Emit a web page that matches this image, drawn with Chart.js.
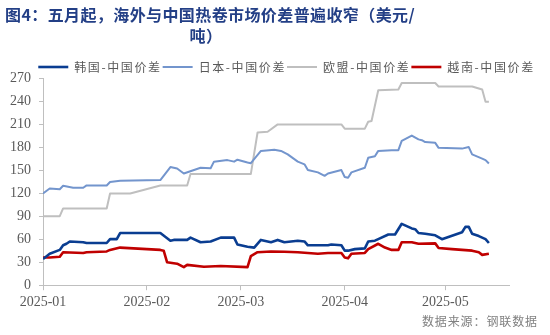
<!DOCTYPE html>
<html>
<head>
<meta charset="utf-8">
<script src="https://cdn.jsdelivr.net/npm/chart.js@4.4.1/dist/chart.umd.min.js"></script>
<style>
  body { margin: 0; background: #fff; }
  #wrap { position: relative; width: 550px; height: 335px; overflow: hidden; }
  #title { position: absolute; left: 5px; top: 4px; width: 402px; text-align: center; white-space: nowrap;
           font: bold 16px "Noto Sans CJK SC"; line-height: 21px; color: #233f86; letter-spacing: 0.4px; }
  #source { position: absolute; right: 12px; top: 313px; font: 12px "Noto Sans CJK SC";
            line-height: 16px; color: #808080; letter-spacing: 0.9px; }
  canvas { position: absolute; left: 0; top: 0; }
</style>
</head>
<body>
<div id="wrap">
  <canvas id="spread" width="550" height="335"></canvas>
  <div id="title">图4：五月起，海外与中国热卷市场价差普遍收窄（美元/<br>吨）</div>
  <div id="source">数据来源：钢联数据</div>
</div>
<script>
// 价差序列 (美元/吨)，[日期, 数值]
var korea = [
  ['01-01', 34], ['01-03', 41], ['01-06', 46], ['01-07', 52], ['01-08', 54], ['01-09', 57],
  ['01-13', 56], ['01-14', 55], ['01-20', 55], ['01-21', 60], ['01-23', 60], ['01-24', 68],
  ['02-05', 68], ['02-08', 58], ['02-09', 59], ['02-13', 59], ['02-14', 62], ['02-17', 56],
  ['02-20', 57], ['02-23', 62], ['02-27', 62], ['02-28', 53], ['03-03', 50], ['03-05', 49],
  ['03-07', 59], ['03-10', 56], ['03-12', 59], ['03-14', 56], ['03-18', 58], ['03-20', 57],
  ['03-21', 52], ['03-27', 52], ['03-28', 53], ['03-31', 52], ['04-01', 45], ['04-02', 45],
  ['04-04', 47], ['04-07', 48], ['04-08', 57], ['04-10', 58], ['04-11', 60], ['04-14', 66],
  ['04-16', 66], ['04-18', 80], ['04-21', 74], ['04-22', 73], ['04-23', 68], ['04-25', 67],
  ['04-28', 65], ['04-30', 60], ['05-06', 69], ['05-07', 76], ['05-08', 76], ['05-09', 67],
  ['05-11', 64], ['05-12', 62], ['05-13', 60], ['05-14', 55]
];
var japan = [
  ['01-01', 119.5], ['01-03', 126], ['01-06', 125], ['01-07', 129.5], ['01-10', 127], ['01-13', 127],
  ['01-14', 130], ['01-20', 130], ['01-21', 134.5], ['01-24', 136], ['02-05', 137], ['02-08', 154],
  ['02-10', 152], ['02-12', 145.5], ['02-17', 153], ['02-20', 152.5], ['02-21', 161], ['02-25', 163],
  ['02-27', 161], ['02-28', 163.5], ['03-03', 160], ['03-04', 159], ['03-07', 175], ['03-11', 176.5],
  ['03-13', 175], ['03-15', 170.5], ['03-18', 161], ['03-20', 157.5], ['03-21', 150], ['03-24', 147],
  ['03-26', 142.5], ['03-27', 145.5], ['03-31', 150], ['04-01', 141], ['04-02', 140], ['04-03', 147],
  ['04-07', 153], ['04-08', 166], ['04-10', 168], ['04-11', 175], ['04-15', 176], ['04-17', 176],
  ['04-18', 188], ['04-21', 195], ['04-23', 190], ['04-24', 189], ['04-25', 186.5], ['04-28', 185.5],
  ['04-29', 179], ['05-06', 178], ['05-08', 180], ['05-09', 170.5], ['05-12', 165], ['05-13', 163],
  ['05-14', 158.5]
];
var eu = [
  ['01-01', 90], ['01-06', 90], ['01-07', 100], ['01-20', 100], ['01-21', 119.5], ['01-27', 119.5],
  ['02-05', 130], ['02-13', 130], ['02-14', 145], ['03-04', 145], ['03-06', 199], ['03-09', 200],
  ['03-12', 209.5], ['03-31', 209.5], ['04-01', 204], ['04-07', 204], ['04-08', 213], ['04-09', 214],
  ['04-11', 254], ['04-17', 255], ['04-18', 263.5], ['04-28', 263.5], ['04-29', 259], ['05-09', 259],
  ['05-12', 255], ['05-13', 239], ['05-14', 239]
];
var vietnam = [
  ['01-01', 36], ['01-03', 36], ['01-06', 37], ['01-07', 43], ['01-13', 42], ['01-14', 43],
  ['01-20', 44], ['01-21', 46], ['01-24', 49], ['02-05', 46], ['02-06', 45], ['02-07', 30],
  ['02-10', 28], ['02-12', 23.5], ['02-13', 26.5], ['02-18', 24], ['02-23', 25], ['03-03', 23.5],
  ['03-04', 38], ['03-06', 43], ['03-10', 44], ['03-14', 43.5], ['03-18', 43], ['03-24', 41],
  ['03-27', 42], ['03-31', 42], ['04-01', 36], ['04-02', 35], ['04-03', 41], ['04-07', 42],
  ['04-08', 47], ['04-11', 54], ['04-13', 49], ['04-15', 46], ['04-17', 46], ['04-18', 56],
  ['04-21', 56], ['04-23', 54], ['04-28', 54.5], ['04-29', 48.5], ['05-03', 47], ['05-06', 46],
  ['05-09', 45], ['05-11', 43], ['05-12', 39.5], ['05-14', 41]
];

var seriesNames = ['韩国-中国价差', '日本-中国价差', '欧盟-中国价差', '越南-中国价差'];
var monthLabels = ['2025-01', '2025-02', '2025-03', '2025-04', '2025-05'];
var yTicks = [0, 30, 60, 90, 120, 150, 180, 210, 240, 270];

// 以 2025-01-01 为 0 的天数
function dayOf(md) {
  var p = md.split('-');
  return (Date.UTC(2025, +p[0] - 1, +p[1]) - Date.UTC(2025, 0, 1)) / 86400000;
}
var monthStarts = monthLabels.map(function (m) { return dayOf(m.slice(5) + '-01'); });

function toPoints(rows) {
  return rows.map(function (r) { return { x: dayOf(r[0]), y: r[1] }; });
}

function line(label, rows, color, width) {
  return {
    label: label,
    data: toPoints(rows),
    borderColor: color,
    backgroundColor: color,
    borderWidth: width,
    pointRadius: 0,
    tension: 0,
    borderJoinStyle: 'round',
    fill: false
  };
}

var axisColor = '#bfbfbf';
var tickFont = { family: '"Liberation Serif", "Times New Roman", serif', size: 14 };

// 图例文字加字距，并整体挪一点位置
var legendTweak = {
  id: 'legendTweak',
  beforeLayout: function (chart) {
    var lg = chart.legend;
    if (!lg || lg._spaced) return;
    lg._spaced = true;
    ['fit', 'draw'].forEach(function (name) {
      var orig = lg[name];
      lg[name] = function () {
        var c = this.ctx;
        c.save();
        c.letterSpacing = '1.6px';
        orig.apply(this, arguments);
        c.restore();
      };
    });
  },
  afterLayout: function (chart) {
    var lg = chart.legend;
    lg.left += 13;
    lg.right += 13;
    lg.top += 5;
    lg.bottom += 5;
  }
};

var ctx = document.getElementById('spread').getContext('2d');
var chart = new Chart(ctx, {
  type: 'line',
  data: {
    datasets: [
      line(seriesNames[0], korea, '#0a3d91', 2.6),
      line(seriesNames[1], japan, '#7395cd', 2),
      line(seriesNames[2], eu, '#bfbfbf', 2),
      line(seriesNames[3], vietnam, '#c00000', 2.6)
    ]
  },
  options: {
    responsive: false,
    animation: false,
    layout: { padding: { left: 2, right: 5, top: 55, bottom: 20 } },
    plugins: {
      legend: {
        position: 'top',
        labels: {
          usePointStyle: true,
          pointStyle: 'line',
          pointStyleWidth: 30,
          padding: 1,
          color: '#595959',
          font: { family: '"Noto Sans CJK SC"', size: 12 }
        }
      },
      tooltip: { enabled: false }
    },
    scales: {
      x: {
        type: 'linear',
        min: 0,
        max: 139,
        afterBuildTicks: function (scale) {
          scale.ticks = monthStarts.map(function (v) { return { value: v }; });
        },
        ticks: {
          autoSkip: false,
          maxRotation: 0,
          padding: 4,
          color: '#595959',
          font: tickFont,
          callback: function (v) { return monthLabels[monthStarts.indexOf(v)]; }
        },
        grid: { drawOnChartArea: false, tickLength: 5, color: axisColor },
        border: { color: axisColor }
      },
      y: {
        min: 0,
        max: 270,
        afterBuildTicks: function (scale) {
          scale.ticks = yTicks.map(function (v) { return { value: v }; });
        },
        ticks: { padding: 8, color: '#595959', font: tickFont },
        grid: { drawOnChartArea: false, tickLength: 4, color: axisColor },
        border: { color: axisColor }
      },
      // 右侧留白，不画任何东西
      yRight: {
        position: 'right',
        ticks: { display: false },
        grid: { display: false },
        border: { display: false },
        afterFit: function (scale) { scale.width = 36; }
      }
    }
  },
  plugins: [legendTweak]
});
</script>
</body>
</html>
